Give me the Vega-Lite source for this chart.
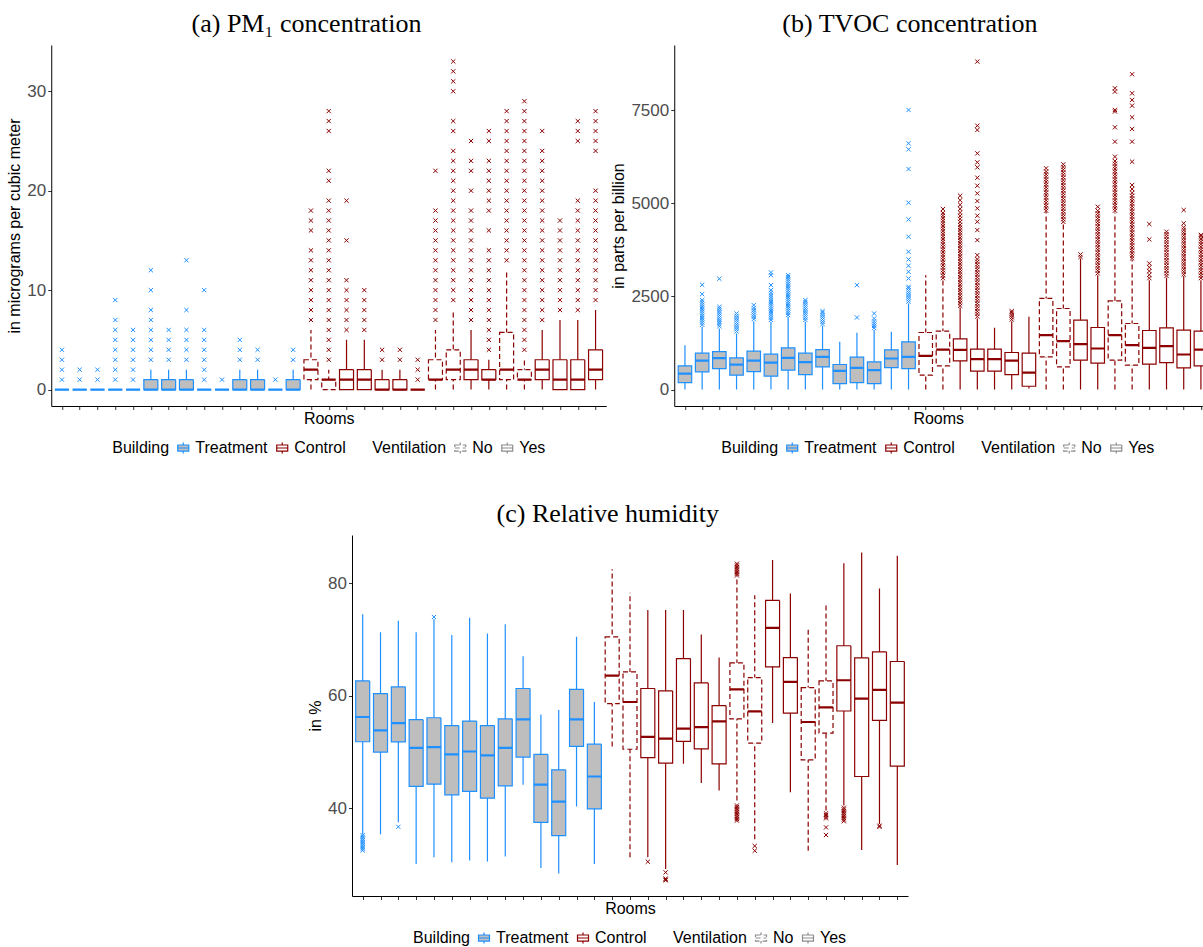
{
  "$schema": "https://vega.github.io/schema/vega-lite/v6.json",
  "padding": {"left": 6, "top": 11, "right": 0, "bottom": 0},
  "background": "white",
  "config": {
    "view": {"stroke": null},
    "font": "Liberation Sans",
    "title": {"font": "Liberation Serif", "fontSize": 26, "fontWeight": "normal", "color": "black", "anchor": "middle", "frame": "bounds", "offset": 8},
    "axis": {"domainColor": "black", "domainWidth": 1, "tickColor": "#333333", "tickSize": 3.5, "labelColor": "#4D4D4D", "labelFont": "Liberation Sans", "labelFontSize": 17, "labelPadding": 2, "titleFont": "Liberation Sans", "titleFontSize": 16, "titleFontWeight": "normal", "titleColor": "black", "grid": false},
    "axisX": {"labels": false, "titlePadding": 0},
    "axisY": {"titlePadding": 4},
    "legend": {
      "orient": "bottom", "direction": "horizontal", "titleOrient": "left",
      "titleFont": "Liberation Sans", "labelFont": "Liberation Sans", "titleFontSize": 16, "labelFontSize": 16,
      "titleFontWeight": "normal", "titleColor": "black", "labelColor": "black",
      "symbolType": "M-1,-0.55H1V0.55H-1Z M-1,0H1 M0,-0.55V-1 M0,0.55V1",
      "symbolSize": 121, "symbolStrokeWidth": 1.2, "columnPadding": 6, "labelOffset": 4, "titlePadding": 6, "offset": 14,
      "layout": {"bottom": {"anchor": "middle", "direction": "horizontal", "margin": 26}}
    }
  },
  "datasets": {
    "a": [
      {"r": "01", "b": "Treatment", "v": "Yes", "lo": 0, "q1": 0, "md": 0, "q3": 0, "hi": 0, "out": [1, 2, 3, 4]},
      {"r": "02", "b": "Treatment", "v": "Yes", "lo": 0, "q1": 0, "md": 0, "q3": 0, "hi": 0, "out": [1, 2]},
      {"r": "03", "b": "Treatment", "v": "Yes", "lo": 0, "q1": 0, "md": 0, "q3": 0, "hi": 0, "out": [1, 2]},
      {"r": "04", "b": "Treatment", "v": "Yes", "lo": 0, "q1": 0, "md": 0, "q3": 0, "hi": 0, "out": [1, 2, 3, 4, 5, 6, 7, 9]},
      {"r": "05", "b": "Treatment", "v": "Yes", "lo": 0, "q1": 0, "md": 0, "q3": 0, "hi": 0, "out": [1, 2, 3, 4, 5, 6]},
      {"r": "06", "b": "Treatment", "v": "Yes", "lo": 0, "q1": 0, "md": 0, "q3": 1, "hi": 2, "out": [3, 4, 5, 6, 7, 8, 10, 12]},
      {"r": "07", "b": "Treatment", "v": "Yes", "lo": 0, "q1": 0, "md": 0, "q3": 1, "hi": 2, "out": [3, 4, 5, 6]},
      {"r": "08", "b": "Treatment", "v": "Yes", "lo": 0, "q1": 0, "md": 0, "q3": 1, "hi": 2, "out": [3, 4, 5, 6, 8, 13]},
      {"r": "09", "b": "Treatment", "v": "Yes", "lo": 0, "q1": 0, "md": 0, "q3": 0, "hi": 0, "out": [1, 2, 3, 4, 5, 6, 10]},
      {"r": "10", "b": "Treatment", "v": "Yes", "lo": 0, "q1": 0, "md": 0, "q3": 0, "hi": 0, "out": [1]},
      {"r": "11", "b": "Treatment", "v": "Yes", "lo": 0, "q1": 0, "md": 0, "q3": 1, "hi": 2, "out": [3, 4, 5]},
      {"r": "12", "b": "Treatment", "v": "Yes", "lo": 0, "q1": 0, "md": 0, "q3": 1, "hi": 2, "out": [3, 4]},
      {"r": "13", "b": "Treatment", "v": "Yes", "lo": 0, "q1": 0, "md": 0, "q3": 0, "hi": 0, "out": [1]},
      {"r": "14", "b": "Treatment", "v": "Yes", "lo": 0, "q1": 0, "md": 0, "q3": 1, "hi": 2, "out": [3, 4]},
      {"r": "15", "b": "Control", "v": "No", "lo": 0, "q1": 1, "md": 2, "q3": 3, "hi": 6, "out": [7, 8, 9, 10, 11, 12, 13, 14, 16, 17, 18]},
      {"r": "16", "b": "Control", "v": "No", "lo": 0, "q1": 0, "md": 1, "q3": 1, "hi": 2, "out": [3, 4, 5, 6, 7, 8, 9, 10, 11, 12, 13, 14, 15, 16, 17, 18, 19, 21, 22, 26, 27, 28]},
      {"r": "17", "b": "Control", "v": "Yes", "lo": 0, "q1": 0, "md": 1, "q3": 2, "hi": 5, "out": [6, 7, 8, 9, 10, 11, 15, 19]},
      {"r": "18", "b": "Control", "v": "Yes", "lo": 0, "q1": 0, "md": 1, "q3": 2, "hi": 5, "out": [6, 7, 8, 9, 10]},
      {"r": "19", "b": "Control", "v": "Yes", "lo": 0, "q1": 0, "md": 0, "q3": 1, "hi": 2, "out": [3, 4]},
      {"r": "20", "b": "Control", "v": "Yes", "lo": 0, "q1": 0, "md": 0, "q3": 1, "hi": 2, "out": [3, 4]},
      {"r": "21", "b": "Control", "v": "Yes", "lo": 0, "q1": 0, "md": 0, "q3": 0, "hi": 0, "out": [1, 2, 3]},
      {"r": "22", "b": "Control", "v": "No", "lo": 0, "q1": 1, "md": 1, "q3": 3, "hi": 6, "out": [7, 8, 9, 10, 11, 12, 13, 14, 15, 16, 17, 18, 22]},
      {"r": "23", "b": "Control", "v": "No", "lo": 0, "q1": 1, "md": 2, "q3": 4, "hi": 8, "out": [9, 10, 11, 12, 13, 14, 15, 16, 17, 18, 19, 20, 21, 22, 23, 24, 26, 27, 30, 31, 32, 33]},
      {"r": "24", "b": "Control", "v": "Yes", "lo": 0, "q1": 1, "md": 2, "q3": 3, "hi": 6, "out": [7, 8, 9, 10, 11, 12, 13, 14, 15, 16, 17, 18, 20, 22, 23, 25]},
      {"r": "25", "b": "Control", "v": "Yes", "lo": 0, "q1": 1, "md": 1, "q3": 2, "hi": 3, "out": [4, 5, 6, 7, 8, 9, 10, 11, 12, 13, 14, 16, 18, 19, 20, 21, 22, 23, 25, 26]},
      {"r": "26", "b": "Control", "v": "No", "lo": 0, "q1": 1, "md": 2, "q3": 5.75, "hi": 11.9, "out": [13, 14, 15, 16, 17, 18, 19, 20, 21, 22, 23, 24, 25, 26, 27, 28]},
      {"r": "27", "b": "Control", "v": "No", "lo": 0, "q1": 1, "md": 1, "q3": 2, "hi": 3, "out": [4, 5, 6, 7, 8, 9, 10, 11, 12, 13, 14, 15, 16, 17, 18, 19, 20, 21, 22, 23, 24, 25, 26, 27, 28, 29]},
      {"r": "28", "b": "Control", "v": "Yes", "lo": 0, "q1": 1, "md": 2, "q3": 3, "hi": 6, "out": [7, 8, 9, 10, 11, 12, 13, 14, 15, 16, 17, 18, 19, 20, 21, 22, 23, 24, 26]},
      {"r": "29", "b": "Control", "v": "Yes", "lo": 0, "q1": 0, "md": 1, "q3": 3, "hi": 7, "out": [8, 9, 10, 11, 12, 13, 14, 15, 16, 17]},
      {"r": "30", "b": "Control", "v": "Yes", "lo": 0, "q1": 0, "md": 1, "q3": 3, "hi": 7, "out": [8, 9, 10, 11, 12, 13, 14, 15, 16, 17, 18, 19, 25, 26, 27]},
      {"r": "31", "b": "Control", "v": "Yes", "lo": 0, "q1": 1, "md": 2, "q3": 4, "hi": 8, "out": [9, 10, 11, 12, 13, 14, 15, 16, 17, 18, 19, 20, 24, 25, 26, 27, 28]}
    ],
    "b": [
      {"r": "01", "b": "Treatment", "v": "Yes", "lo": 0, "q1": 189, "md": 431, "q3": 637, "hi": 1192, "out": []},
      {"r": "02", "b": "Treatment", "v": "Yes", "lo": 0, "q1": 475, "md": 780, "q3": 977, "hi": 1684, "out": [1740, 1800, 1860, 1920, 1980, 2040, 2100, 2160, 2220, 2280, 2340, 2400, 2561, 2812]},
      {"r": "03", "b": "Treatment", "v": "Yes", "lo": 0, "q1": 565, "md": 843, "q3": 1021, "hi": 1639, "out": [1700, 1760, 1815, 1870, 1930, 1990, 2050, 2110, 2170, 2221, 2973]},
      {"r": "04", "b": "Treatment", "v": "Yes", "lo": 0, "q1": 386, "md": 672, "q3": 851, "hi": 1505, "out": [1560, 1620, 1680, 1740, 1800, 1860, 1920, 1980, 2042]},
      {"r": "05", "b": "Treatment", "v": "Yes", "lo": 0, "q1": 484, "md": 780, "q3": 1030, "hi": 1836, "out": [1890, 1950, 2010, 2070, 2130, 2190, 2266]},
      {"r": "06", "b": "Treatment", "v": "Yes", "lo": 0, "q1": 359, "md": 726, "q3": 950, "hi": 1818, "out": [1870, 1930, 1990, 2050, 2110, 2170, 2230, 2290, 2350, 2410, 2470, 2530, 2600, 2668, 2803, 3071, 3143]},
      {"r": "07", "b": "Treatment", "v": "Yes", "lo": 0, "q1": 520, "md": 852, "q3": 1120, "hi": 1952, "out": [2000, 2060, 2120, 2180, 2240, 2300, 2360, 2420, 2480, 2540, 2600, 2660, 2720, 2780, 2840, 2900, 2960, 3020, 3071]},
      {"r": "08", "b": "Treatment", "v": "Yes", "lo": 0, "q1": 404, "md": 735, "q3": 977, "hi": 1818, "out": [1870, 1930, 1990, 2050, 2110, 2170, 2230, 2290, 2350, 2400]},
      {"r": "09", "b": "Treatment", "v": "Yes", "lo": 0, "q1": 610, "md": 878, "q3": 1075, "hi": 1711, "out": [1760, 1820, 1880, 1940, 2000, 2060, 2105]},
      {"r": "10", "b": "Treatment", "v": "Yes", "lo": 0, "q1": 162, "md": 502, "q3": 673, "hi": 1281, "out": []},
      {"r": "11", "b": "Treatment", "v": "Yes", "lo": 0, "q1": 189, "md": 583, "q3": 869, "hi": 1523, "out": [1934, 2803]},
      {"r": "12", "b": "Treatment", "v": "Yes", "lo": 0, "q1": 162, "md": 520, "q3": 744, "hi": 1600, "out": [1650, 1710, 1770, 1830, 1908, 2042]},
      {"r": "13", "b": "Treatment", "v": "Yes", "lo": 0, "q1": 592, "md": 834, "q3": 1066, "hi": 1550, "out": []},
      {"r": "14", "b": "Treatment", "v": "Yes", "lo": 0, "q1": 565, "md": 878, "q3": 1281, "hi": 2311, "out": [2360, 2420, 2480, 2540, 2600, 2660, 2720, 2758, 2982, 3161, 3322, 3492, 3698, 4101, 4566, 5014, 5918, 6446, 6607, 7502]},
      {"r": "15", "b": "Control", "v": "No", "lo": 0, "q1": 386, "md": 905, "q3": 1532, "hi": 3071, "out": []},
      {"r": "16", "b": "Control", "v": "No", "lo": 0, "q1": 637, "md": 1075, "q3": 1567, "hi": 2937, "out": [2990, 3060, 3130, 3200, 3270, 3340, 3410, 3480, 3550, 3620, 3690, 3760, 3830, 3900, 3970, 4040, 4110, 4180, 4250, 4320, 4390, 4460, 4530, 4600, 4670, 4740, 4844]},
      {"r": "17", "b": "Control", "v": "Yes", "lo": 0, "q1": 771, "md": 1066, "q3": 1361, "hi": 2203, "out": [2250, 2320, 2390, 2460, 2530, 2600, 2670, 2740, 2810, 2880, 2950, 3020, 3090, 3160, 3230, 3300, 3370, 3440, 3510, 3580, 3650, 3720, 3790, 3860, 3930, 4000, 4070, 4140, 4210, 4280, 4350, 4420, 4500, 4580, 4660, 4750, 4850, 4960, 5080, 5201]},
      {"r": "18", "b": "Control", "v": "Yes", "lo": 0, "q1": 493, "md": 816, "q3": 1084, "hi": 1908, "out": [1960, 2030, 2100, 2170, 2240, 2310, 2380, 2450, 2520, 2590, 2660, 2730, 2800, 2870, 2940, 3010, 3080, 3150, 3220, 3290, 3360, 3430, 3500, 3608, 4011, 4280, 4504, 4665, 4862, 5059, 5264, 5470, 5685, 5963, 6097, 6338, 6965, 7081, 8800]},
      {"r": "19", "b": "Control", "v": "Yes", "lo": 0, "q1": 493, "md": 816, "q3": 1084, "hi": 1657, "out": []},
      {"r": "20", "b": "Control", "v": "Yes", "lo": 0, "q1": 404, "md": 780, "q3": 995, "hi": 1836, "out": [1880, 1940, 2000, 2060, 2105]},
      {"r": "21", "b": "Control", "v": "Yes", "lo": 30, "q1": 90, "md": 458, "q3": 977, "hi": 1952, "out": []},
      {"r": "22", "b": "Control", "v": "No", "lo": 0, "q1": 878, "md": 1460, "q3": 2445, "hi": 4772, "out": [4800, 4870, 4940, 5010, 5080, 5150, 5220, 5290, 5360, 5430, 5500, 5570, 5640, 5710, 5780, 5850, 5936]},
      {"r": "23", "b": "Control", "v": "No", "lo": 0, "q1": 610, "md": 1299, "q3": 2176, "hi": 4459, "out": [4500, 4570, 4640, 4710, 4780, 4850, 4920, 4990, 5060, 5130, 5200, 5270, 5340, 5410, 5480, 5550, 5620, 5690, 5760, 5830, 5900, 5970, 6043]},
      {"r": "24", "b": "Control", "v": "Yes", "lo": 0, "q1": 789, "md": 1219, "q3": 1863, "hi": 3518, "out": [3560, 3626]},
      {"r": "25", "b": "Control", "v": "Yes", "lo": 0, "q1": 708, "md": 1102, "q3": 1666, "hi": 3071, "out": [3120, 3190, 3260, 3330, 3400, 3470, 3540, 3610, 3680, 3750, 3820, 3890, 3960, 4030, 4100, 4170, 4240, 4310, 4380, 4450, 4520, 4590, 4660, 4730, 4800, 4906]},
      {"r": "26", "b": "Control", "v": "No", "lo": 0, "q1": 789, "md": 1460, "q3": 2382, "hi": 4754, "out": [4800, 4870, 4940, 5010, 5080, 5150, 5220, 5290, 5360, 5430, 5500, 5570, 5640, 5710, 5780, 5850, 5920, 5990, 6060, 6130, 6249, 6652, 7037, 7460, 7502, 7994, 8084]},
      {"r": "27", "b": "Control", "v": "No", "lo": 0, "q1": 655, "md": 1192, "q3": 1773, "hi": 3474, "out": [3520, 3590, 3660, 3730, 3800, 3870, 3940, 4010, 4080, 4150, 4220, 4290, 4360, 4430, 4500, 4570, 4640, 4710, 4780, 4850, 4920, 4990, 5060, 5130, 5200, 5280, 5380, 5488, 6115, 6652, 6992, 7305, 7618, 7771, 7950, 8460]},
      {"r": "28", "b": "Control", "v": "Yes", "lo": 0, "q1": 682, "md": 1120, "q3": 1585, "hi": 2937, "out": [2990, 3080, 3180, 3280, 3384, 4029, 4441]},
      {"r": "29", "b": "Control", "v": "Yes", "lo": 0, "q1": 726, "md": 1165, "q3": 1657, "hi": 3000, "out": [3050, 3120, 3190, 3260, 3330, 3400, 3470, 3540, 3610, 3680, 3750, 3820, 3890, 3960, 4030, 4100, 4170, 4235]},
      {"r": "30", "b": "Control", "v": "Yes", "lo": 0, "q1": 583, "md": 941, "q3": 1594, "hi": 3045, "out": [3090, 3160, 3230, 3300, 3370, 3440, 3510, 3580, 3650, 3720, 3790, 3860, 3930, 4000, 4070, 4140, 4210, 4280, 4350, 4459, 4817]},
      {"r": "31", "b": "Control", "v": "Yes", "lo": 0, "q1": 637, "md": 1075, "q3": 1567, "hi": 2937, "out": [2990, 3060, 3130, 3200, 3270, 3340, 3410, 3480, 3550, 3620, 3690, 3760, 3830, 3900, 3970, 4040, 4110, 4150]}
    ],
    "c": [
      {"r": "01", "b": "Treatment", "v": "Yes", "lo": 35.4, "q1": 51.83, "md": 56.23, "q3": 62.65, "hi": 74.5, "out": [32.5, 32.8, 33.1, 33.4, 33.7, 34.0, 34.3, 34.6, 34.9, 35.2]},
      {"r": "02", "b": "Treatment", "v": "Yes", "lo": 35.4, "q1": 50.0, "md": 53.85, "q3": 60.4, "hi": 71.3, "out": []},
      {"r": "03", "b": "Treatment", "v": "Yes", "lo": 37.5, "q1": 51.8, "md": 55.16, "q3": 61.6, "hi": 73.35, "out": [36.7]},
      {"r": "04", "b": "Treatment", "v": "Yes", "lo": 30.1, "q1": 43.9, "md": 50.76, "q3": 55.75, "hi": 71.3, "out": []},
      {"r": "05", "b": "Treatment", "v": "Yes", "lo": 31.3, "q1": 44.3, "md": 50.88, "q3": 56.1, "hi": 73.6, "out": [74.0]},
      {"r": "06", "b": "Treatment", "v": "Yes", "lo": 30.4, "q1": 42.4, "md": 49.57, "q3": 54.7, "hi": 70.8, "out": []},
      {"r": "07", "b": "Treatment", "v": "Yes", "lo": 30.7, "q1": 43.0, "md": 50.1, "q3": 55.5, "hi": 73.9, "out": []},
      {"r": "08", "b": "Treatment", "v": "Yes", "lo": 30.55, "q1": 41.8, "md": 49.4, "q3": 54.7, "hi": 71.1, "out": []},
      {"r": "09", "b": "Treatment", "v": "Yes", "lo": 31.44, "q1": 44.0, "md": 50.76, "q3": 55.9, "hi": 72.75, "out": []},
      {"r": "10", "b": "Treatment", "v": "Yes", "lo": 44.2, "q1": 49.1, "md": 55.8, "q3": 61.3, "hi": 67.05, "out": []},
      {"r": "11", "b": "Treatment", "v": "Yes", "lo": 29.4, "q1": 37.5, "md": 44.2, "q3": 49.57, "hi": 56.7, "out": []},
      {"r": "12", "b": "Treatment", "v": "Yes", "lo": 28.4, "q1": 35.13, "md": 41.2, "q3": 46.84, "hi": 57.5, "out": []},
      {"r": "13", "b": "Treatment", "v": "Yes", "lo": 40.3, "q1": 51.0, "md": 55.8, "q3": 61.16, "hi": 70.5, "out": []},
      {"r": "14", "b": "Treatment", "v": "Yes", "lo": 30.1, "q1": 39.9, "md": 45.65, "q3": 51.4, "hi": 58.9, "out": []},
      {"r": "15", "b": "Control", "v": "No", "lo": 51.0, "q1": 58.6, "md": 63.6, "q3": 70.5, "hi": 82.5, "out": []},
      {"r": "16", "b": "Control", "v": "No", "lo": 31.3, "q1": 50.5, "md": 58.9, "q3": 64.25, "hi": 78.34, "out": []},
      {"r": "17", "b": "Control", "v": "Yes", "lo": 31.3, "q1": 49.0, "md": 52.7, "q3": 61.3, "hi": 75.25, "out": [30.5]},
      {"r": "18", "b": "Control", "v": "Yes", "lo": 29.2, "q1": 48.03, "md": 52.37, "q3": 60.87, "hi": 75.25, "out": [28.6, 27.5, 27.3, 27.2]},
      {"r": "19", "b": "Control", "v": "Yes", "lo": 47.9, "q1": 51.89, "md": 54.15, "q3": 66.63, "hi": 75.25, "out": []},
      {"r": "20", "b": "Control", "v": "Yes", "lo": 44.5, "q1": 50.58, "md": 54.45, "q3": 62.3, "hi": 70.9, "out": []},
      {"r": "21", "b": "Control", "v": "Yes", "lo": 43.15, "q1": 47.9, "md": 55.46, "q3": 58.25, "hi": 66.8, "out": []},
      {"r": "22", "b": "Control", "v": "No", "lo": 41.4, "q1": 55.9, "md": 61.16, "q3": 65.86, "hi": 81.08, "out": [81.4, 81.7, 82.0, 82.3, 82.6, 82.9, 83.2, 83.5, 40.5, 40.2, 39.9, 39.6, 39.3, 39.0, 38.7, 38.4, 38.1, 37.8]},
      {"r": "23", "b": "Control", "v": "No", "lo": 34.5, "q1": 51.6, "md": 57.24, "q3": 63.24, "hi": 77.9, "out": [33.3, 32.45]},
      {"r": "24", "b": "Control", "v": "Yes", "lo": 55.16, "q1": 65.15, "md": 72.1, "q3": 76.97, "hi": 84.17, "out": []},
      {"r": "25", "b": "Control", "v": "Yes", "lo": 42.86, "q1": 56.94, "md": 62.47, "q3": 66.8, "hi": 78.2, "out": []},
      {"r": "26", "b": "Control", "v": "No", "lo": 32.45, "q1": 48.62, "md": 55.34, "q3": 61.46, "hi": 72.16, "out": []},
      {"r": "27", "b": "Control", "v": "No", "lo": 39.6, "q1": 53.38, "md": 57.95, "q3": 62.65, "hi": 76.56, "out": [39.1, 38.8, 38.5, 38.2, 36.6, 35.25]},
      {"r": "28", "b": "Control", "v": "Yes", "lo": 40.5, "q1": 57.3, "md": 62.77, "q3": 68.9, "hi": 83.57, "out": [40.1, 39.8, 39.5, 39.2, 38.9, 38.6, 38.3, 38.0, 37.7]},
      {"r": "29", "b": "Control", "v": "Yes", "lo": 32.57, "q1": 45.65, "md": 59.5, "q3": 66.75, "hi": 85.5, "out": []},
      {"r": "30", "b": "Control", "v": "Yes", "lo": 37.2, "q1": 55.63, "md": 61.05, "q3": 67.8, "hi": 79.1, "out": [36.9, 36.7]},
      {"r": "31", "b": "Control", "v": "Yes", "lo": 29.9, "q1": 47.5, "md": 58.8, "q3": 66.1, "hi": 84.9, "out": []}
    ]
  },
  "center": true,
  "spacing": 45,
  "resolve": {"scale": {"stroke": "independent", "fill": "independent", "strokeDash": "independent"}, "legend": {"stroke": "independent", "fill": "independent", "strokeDash": "independent"}},
  "vconcat": [
    {
      "spacing": 4,
      "resolve": {"scale": {"stroke": "independent", "fill": "independent", "strokeDash": "independent"}, "legend": {"stroke": "independent", "fill": "independent", "strokeDash": "independent"}},
      "hconcat": [
        {
          "title": "(a) PM₁ concentration",
          "width": 555, "height": 361,
          "data": {"name": "a"},
          "encoding": {
            "x": {"field": "r", "type": "ordinal", "scale": {"type": "point", "padding": 0.6}, "axis": {"title": "Rooms"}},
            "stroke": {"field": "b", "type": "nominal", "title": "Building", "scale": {"domain": ["Treatment", "Control"], "range": ["#1E90FF", "#8B0000"]}}
          },
          "layer": [
            {"mark": {"type": "rule", "strokeWidth": 1.2}, "encoding": {"y": {"field": "lo", "type": "quantitative", "scale": {"domain": [-1.65, 34.65], "nice": false, "zero": false}, "axis": {"title": "in micrograms per cubic meter", "values": [0, 10, 20, 30]}}, "y2": {"field": "hi"}, "strokeDash": {"field": "v", "type": "nominal", "title": "Ventilation", "scale": {"domain": ["No", "Yes"], "range": [[5, 3], [1, 0]]}, "legend": {"encode": {"symbols": {"update": {"fill": {"value": "white"}, "stroke": {"value": "#8C8C8C"}}}}}}}},
            {"mark": {"type": "bar", "size": 14, "strokeWidth": 1.2}, "encoding": {"y": {"field": "q1", "type": "quantitative"}, "y2": {"field": "q3"}, "fill": {"field": "b", "type": "nominal", "title": "Building", "scale": {"domain": ["Treatment", "Control"], "range": ["#BEBEBE", "#FFFFFF"]}}, "strokeDash": {"field": "v", "type": "nominal", "title": "Ventilation"}}},
            {"mark": {"type": "bar", "size": 14, "strokeWidth": 2.2, "fillOpacity": 0}, "encoding": {"y": {"field": "md", "type": "quantitative"}, "y2": {"field": "md"}}},
            {"transform": [{"flatten": ["out"]}], "mark": {"type": "point", "shape": "M-1,-1L1,1M1,-1L-1,1", "size": 18, "strokeWidth": 1, "filled": false, "opacity": 1}, "encoding": {"y": {"field": "out", "type": "quantitative"}}}
          ]
        },
        {
          "title": "(b) TVOC concentration",
          "width": 528, "height": 361,
          "data": {"name": "b"},
          "encoding": {
            "x": {"field": "r", "type": "ordinal", "scale": {"type": "point", "padding": 0.35, "align": 0.89}, "axis": {"title": "Rooms"}},
            "stroke": {"field": "b", "type": "nominal", "title": "Building", "scale": {"domain": ["Treatment", "Control"], "range": ["#1E90FF", "#8B0000"]}}
          },
          "layer": [
            {"mark": {"type": "rule", "strokeWidth": 1.2}, "encoding": {"y": {"field": "lo", "type": "quantitative", "scale": {"domain": [-440, 9245], "nice": false, "zero": false}, "axis": {"title": "in parts per billion", "values": [0, 2500, 5000, 7500], "format": "d"}}, "y2": {"field": "hi"}, "strokeDash": {"field": "v", "type": "nominal", "title": "Ventilation", "scale": {"domain": ["No", "Yes"], "range": [[5, 3], [1, 0]]}, "legend": {"encode": {"symbols": {"update": {"fill": {"value": "white"}, "stroke": {"value": "#8C8C8C"}}}}}}}},
            {"mark": {"type": "bar", "size": 13.5, "strokeWidth": 1.2}, "encoding": {"y": {"field": "q1", "type": "quantitative"}, "y2": {"field": "q3"}, "fill": {"field": "b", "type": "nominal", "title": "Building", "scale": {"domain": ["Treatment", "Control"], "range": ["#BEBEBE", "#FFFFFF"]}}, "strokeDash": {"field": "v", "type": "nominal", "title": "Ventilation"}}},
            {"mark": {"type": "bar", "size": 13.5, "strokeWidth": 2.2, "fillOpacity": 0}, "encoding": {"y": {"field": "md", "type": "quantitative"}, "y2": {"field": "md"}}},
            {"transform": [{"flatten": ["out"]}], "mark": {"type": "point", "shape": "M-1,-1L1,1M1,-1L-1,1", "size": 18, "strokeWidth": 1, "filled": false, "opacity": 1}, "encoding": {"y": {"field": "out", "type": "quantitative"}}}
          ]
        }
      ]
    },
    {
      "title": "(c) Relative humidity",
      "width": 556, "height": 361,
      "data": {"name": "c"},
      "encoding": {
        "x": {"field": "r", "type": "ordinal", "scale": {"type": "point", "padding": 0.6}, "axis": {"title": "Rooms"}},
        "stroke": {"field": "b", "type": "nominal", "title": "Building", "scale": {"domain": ["Treatment", "Control"], "range": ["#1E90FF", "#8B0000"]}}
      },
      "layer": [
        {"mark": {"type": "rule", "strokeWidth": 1.2}, "encoding": {"y": {"field": "lo", "type": "quantitative", "scale": {"domain": [24.4, 88.6], "nice": false, "zero": false}, "axis": {"title": "in %", "values": [40, 60, 80]}}, "y2": {"field": "hi"}, "strokeDash": {"field": "v", "type": "nominal", "title": "Ventilation", "scale": {"domain": ["No", "Yes"], "range": [[5, 3], [1, 0]]}, "legend": {"encode": {"symbols": {"update": {"fill": {"value": "white"}, "stroke": {"value": "#8C8C8C"}}}}}}}},
        {"mark": {"type": "bar", "size": 14, "strokeWidth": 1.2}, "encoding": {"y": {"field": "q1", "type": "quantitative"}, "y2": {"field": "q3"}, "fill": {"field": "b", "type": "nominal", "title": "Building", "scale": {"domain": ["Treatment", "Control"], "range": ["#BEBEBE", "#FFFFFF"]}}, "strokeDash": {"field": "v", "type": "nominal", "title": "Ventilation"}}},
        {"mark": {"type": "bar", "size": 14, "strokeWidth": 2.2, "fillOpacity": 0}, "encoding": {"y": {"field": "md", "type": "quantitative"}, "y2": {"field": "md"}}},
        {"transform": [{"flatten": ["out"]}], "mark": {"type": "point", "shape": "M-1,-1L1,1M1,-1L-1,1", "size": 18, "strokeWidth": 1, "filled": false, "opacity": 1}, "encoding": {"y": {"field": "out", "type": "quantitative"}}}
      ]
    }
  ]
}
